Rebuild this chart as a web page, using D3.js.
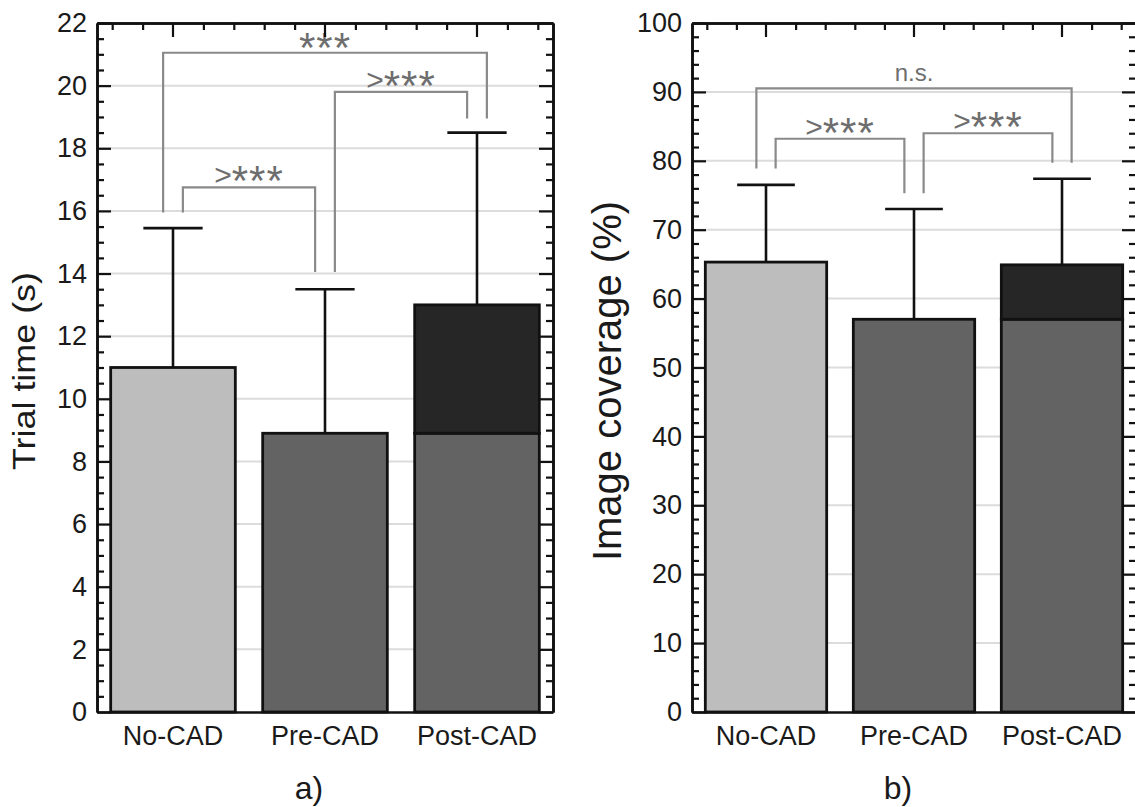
<!DOCTYPE html>
<html>
<head>
<meta charset="utf-8">
<script src="https://cdn.jsdelivr.net/npm/d3@7"></script>
<style>
  body { margin: 0; background: #fff; }
  svg { display: block; }
  text { font-family: "Liberation Sans", Arial, sans-serif; fill: #1a1a1a; }
</style>
</head>
<body>
<svg id="chart" width="1135" height="807"></svg>
<script>
// categories shared by both panels
const categories = ["No-CAD", "Pre-CAD", "Post-CAD"];

// panel a) trial time (s)
const timeBase = [11.0, 8.9, 8.9];
const timeExtra = [0, 0, 4.1];
const timeSd = [4.45, 4.6, 5.5];
const timeTicks = [0, 2, 4, 6, 8, 10, 12, 14, 16, 18, 20, 22];

// panel b) image coverage (%)
const coverBase = [65.3, 57.0, 57.0];
const coverExtra = [0, 0, 7.9];
const coverSd = [11.2, 16.0, 12.5];
const coverTicks = [0, 10, 20, 30, 40, 50, 60, 70, 80, 90, 100];

// significance brackets: from/to category, leg side (-1 left, +1 right), leg ends and top
const timeBrackets = [
  { from: 0, fromSide: 1, to: 1, toSide: -1, y1: 15.95, top: 16.75, y2: 14.05, label: ">***" },
  { from: 1, fromSide: 1, to: 2, toSide: -1, y1: 14.05, top: 19.8, y2: 18.95, label: ">***" },
  { from: 0, fromSide: -1, to: 2, toSide: 1, y1: 15.95, top: 21.05, y2: 18.95, label: "***" }
];
const coverBrackets = [
  { from: 0, fromSide: -1, to: 2, toSide: 1, y1: 78.9, top: 90.5, y2: 79.7, label: "n.s." },
  { from: 0, fromSide: 1, to: 1, toSide: -1, y1: 78.9, top: 83.2, y2: 75.3, label: ">***" },
  { from: 1, fromSide: 1, to: 2, toSide: -1, y1: 75.3, top: 84.0, y2: 79.7, label: ">***" }
];

const baseColors = ["#bdbdbd", "#636363", "#636363"];
const extraColor = "#262626";

const svg = d3.select("#chart");

function drawPanel(opt) {
  const { x0, x1, yTop, yBottom, yMax, base, extra, sd, ticks, minorStep, brackets } = opt;
  const g = svg.append("g");

  const x = d3.scaleBand().domain(categories).range([x0, x1]).paddingInner(0.18).paddingOuter(0.09);
  const xi = d3.scaleLinear().domain([-0.5, 2.5]).range([x0, x1]);
  const y = d3.scaleLinear().domain([0, yMax]).range([yBottom, yTop]);
  const step = x.step();
  const cx = i => x(categories[i]) + x.bandwidth() / 2;

  // grid lines
  g.append("g").selectAll("line")
    .data(ticks.filter(t => t > 0 && t < yMax))
    .join("line")
    .attr("x1", x0).attr("x2", x1)
    .attr("y1", d => y(d)).attr("y2", d => y(d))
    .attr("stroke", "#dcdcdc").attr("stroke-width", 2);

  // bars (base + stacked extra)
  const bars = categories.map((c, i) => ({ c, i, base: base[i], extra: extra[i], sd: sd[i] }));
  g.append("g").selectAll("rect.base")
    .data(bars).join("rect")
    .attr("x", d => x(d.c)).attr("width", x.bandwidth())
    .attr("y", d => y(d.base)).attr("height", d => y(0) - y(d.base))
    .attr("fill", d => baseColors[d.i])
    .attr("stroke", "#111").attr("stroke-width", 2.8);
  g.append("g").selectAll("rect.extra")
    .data(bars.filter(d => d.extra > 0)).join("rect")
    .attr("x", d => x(d.c)).attr("width", x.bandwidth())
    .attr("y", d => y(d.base + d.extra)).attr("height", d => y(d.base) - y(d.base + d.extra))
    .attr("fill", extraColor)
    .attr("stroke", "#111").attr("stroke-width", 2.8);

  // error bars (upper only)
  const capW = step * 0.39;
  const eb = g.append("g").attr("stroke", "#111").attr("stroke-width", 2.6);
  eb.selectAll("line.v").data(bars).join("line")
    .attr("x1", d => cx(d.i)).attr("x2", d => cx(d.i))
    .attr("y1", d => y(d.base + d.extra)).attr("y2", d => y(d.base + d.extra + d.sd));
  eb.selectAll("line.h").data(bars).join("line")
    .attr("x1", d => cx(d.i) - capW / 2).attr("x2", d => cx(d.i) + capW / 2)
    .attr("y1", d => y(d.base + d.extra + d.sd)).attr("y2", d => y(d.base + d.extra + d.sd));

  // significance brackets
  const off = step * 0.065;
  const bg = g.append("g");
  brackets.forEach(b => {
    const xa = cx(b.from) + b.fromSide * off;
    const xb = cx(b.to) + b.toSide * off;
    bg.append("path")
      .attr("d", d3.line()([[xa, y(b.y1)], [xa, y(b.top)], [xb, y(b.top)], [xb, y(b.y2)]]))
      .attr("fill", "none").attr("stroke", "#8a8a8a").attr("stroke-width", 2.2);
    const t = bg.append("text")
      .attr("x", (xa + xb) / 2)
      .attr("text-anchor", "middle").style("fill", "#6e6e6e");
    if (b.label === "n.s.") {
      t.attr("y", y(b.top) - 7).style("font-size", "24px").text(b.label);
    } else if (b.label.startsWith(">")) {
      t.attr("y", y(b.top) - 2);
      t.append("tspan").style("font-size", "30px").text(">");
      t.append("tspan").style("font-size", "42px").attr("dy", 10).attr("letter-spacing", 1).text(b.label.slice(1));
    } else {
      t.attr("y", y(b.top) + 9);
      t.append("tspan").style("font-size", "42px").attr("letter-spacing", 1).text(b.label);
    }
  });

  // axes
  const yMinor = d3.range(0, yMax + 1e-9, minorStep).filter(v => !ticks.includes(+v.toFixed(3)));
  const left = g.append("g").attr("transform", `translate(${x0},0)`)
    .call(d3.axisLeft(y).tickValues(ticks).tickSizeInner(-14).tickSizeOuter(0).tickPadding(10).tickFormat(d3.format("d")));
  g.append("g").attr("transform", `translate(${x0},0)`)
    .call(d3.axisLeft(y).tickValues(yMinor).tickSizeInner(-7).tickSizeOuter(0).tickFormat(""));
  g.append("g").attr("transform", `translate(${x1},0)`)
    .call(d3.axisRight(y).tickValues(ticks).tickSizeInner(-14).tickSizeOuter(0).tickFormat(""));
  g.append("g").attr("transform", `translate(${x1},0)`)
    .call(d3.axisRight(y).tickValues(yMinor).tickSizeInner(-7).tickSizeOuter(0).tickFormat(""));

  const topMinor = d3.range(-0.4, 2.5, 0.2).map(v => +v.toFixed(2)).filter(v => Math.abs(v - Math.round(v)) > 1e-6);
  g.append("g").attr("transform", `translate(0,${yTop})`)
    .call(d3.axisTop(x).tickSizeInner(-14).tickSizeOuter(0).tickFormat(""));
  g.append("g").attr("transform", `translate(0,${yTop})`)
    .call(d3.axisTop(xi).tickValues(topMinor).tickSizeInner(-7).tickSizeOuter(0).tickFormat(""));

  const bottom = g.append("g").attr("transform", `translate(0,${yBottom})`)
    .call(d3.axisBottom(x).tickSize(0).tickPadding(14));

  g.selectAll(".domain").attr("stroke", "#111").attr("stroke-width", 2.6);
  g.selectAll(".tick line").attr("stroke", "#111").attr("stroke-width", 2.2);
  left.selectAll("text").style("font-size", "27px").style("fill", "#1a1a1a")
    .style("font-family", "'Liberation Sans', Arial, sans-serif");
  bottom.selectAll("text").style("font-size", "27px").style("fill", "#1a1a1a")
    .style("font-family", "'Liberation Sans', Arial, sans-serif");

  // axis title
  const title = svg.append("text")
    .attr("transform", `translate(${opt.titleX},${opt.titleY}) rotate(-90)`)
    .attr("text-anchor", "middle")
    .style("font-size", opt.titleSize + "px")
    .text(opt.title);
  if (opt.titleLength) title.attr("textLength", opt.titleLength).attr("lengthAdjust", "spacingAndGlyphs");

  // panel label
  svg.append("text")
    .attr("x", (x0 + x1) / 2 - 16).attr("y", 799)
    .attr("text-anchor", "middle").style("font-size", "32px")
    .text(opt.panel);
}

drawPanel({
  x0: 97, x1: 553, yTop: 23, yBottom: 712, yMax: 22,
  base: timeBase, extra: timeExtra, sd: timeSd,
  ticks: timeTicks, minorStep: 0.5, brackets: timeBrackets,
  title: "Trial time (s)", titleX: 35, titleY: 371, titleSize: 31, titleLength: 198, panel: "a)"
});

drawPanel({
  x0: 692, x1: 1136, yTop: 23, yBottom: 712, yMax: 100,
  base: coverBase, extra: coverExtra, sd: coverSd,
  ticks: coverTicks, minorStep: 2, brackets: coverBrackets,
  title: "Image coverage (%)", titleX: 621, titleY: 381, titleSize: 40, panel: "b)"
});
</script>
</body>
</html>
